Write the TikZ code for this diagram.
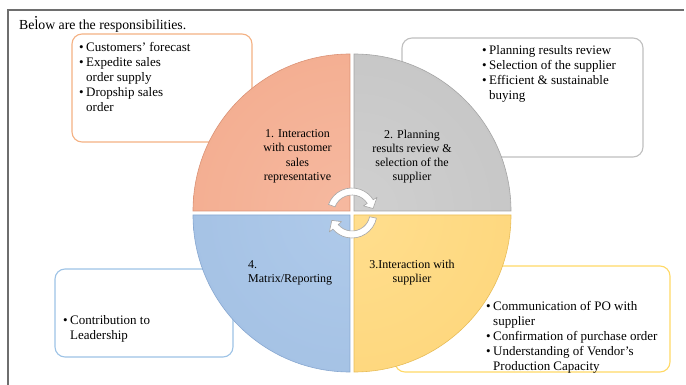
\documentclass[tikz,border=0pt]{standalone}
\usepackage{fontspec}
\setmainfont{Liberation Serif}
\definecolor{frameline}{HTML}{6E6E6E}
\definecolor{orin}{HTML}{F6B9A0}
\definecolor{orout}{HTML}{F1A585}
\definecolor{ordraw}{HTML}{DB9276}
\definecolor{grin}{HTML}{D0D0D0}
\definecolor{grout}{HTML}{BFBFBF}
\definecolor{grdraw}{HTML}{A5A5A5}
\definecolor{blin}{HTML}{AFCAEA}
\definecolor{blout}{HTML}{9CBBE0}
\definecolor{bldraw}{HTML}{88A8D0}
\definecolor{yein}{HTML}{FFDE8E}
\definecolor{yeout}{HTML}{FDD270}
\definecolor{yedraw}{HTML}{E8BD58}
\definecolor{orbox}{HTML}{F4B183}
\definecolor{grbox}{HTML}{BFBFBF}
\definecolor{blbox}{HTML}{9DC3E6}
\definecolor{yebox}{HTML}{FFD966}
\newcommand{\bul}{\makebox[7pt][l]{\textbullet}}
\newcommand{\ind}{\hspace*{7pt}}
% one quarter of the cycle: corner, start angle, inner colour, outer colour, rim colour
\newcommand{\quarter}[5]{%
  \begin{scope}
    \clip #1 -- ++(#2:157) arc[start angle=#2,end angle=#2+90,radius=157] -- cycle;
    \shade[inner color=#3,outer color=#4] (352,213) circle (314);
  \end{scope}
  \draw[#5,line width=0.6pt] #1 -- ++(#2:157) arc[start angle=#2,end angle=#2+90,radius=157] -- cycle;}
\begin{document}
\begin{tikzpicture}[x=1pt,y=-1pt,
  infobox/.style={fill=white,line width=1.1pt,rounded corners=10pt},
  boxtext/.style={anchor=north west,inner sep=0pt,align=left,
    font=\fontsize{13}{15}\selectfont},
  quadtext/.style={inner sep=0pt,font=\fontsize{12}{14.3}\selectfont},
  arrowband/.style={fill=white,draw=gray!70,line width=0.6pt,line join=round}]
\useasboundingbox (0,0) rectangle (686,385);

% page frame and heading
\draw[frameline,line width=1.3pt] (8,385) -- (8,10) -- (684,10);
\fill[black] (36,17) circle (1pt);
\node[anchor=base west,inner sep=0pt,font=\fontsize{13.8}{16}\selectfont] (head) at (19,30) {Below are the responsibilities.};

% detail boxes behind the circle
\draw[infobox,draw=orbox] (72,34) rectangle (252,142);
\draw[infobox,draw=grbox] (402,38) rectangle (643,157);
\draw[infobox,draw=blbox] (55,269) rectangle (233,357);
\draw[infobox,draw=yebox] (395,266) rectangle (670,372);

\node[boxtext] (t1) at (79,42) {\bul Customers’ forecast\\ \bul Expedite sales\\ \ind order supply\\ \bul Dropship sales\\ \ind order};
\node[boxtext] (t2) at (482,45) {\bul Planning results review\\ \bul Selection of the supplier\\ \bul Efficient \& sustainable\\ \ind buying};
\node[boxtext] (t4) at (63,315) {\bul Contribution to\\ \ind Leadership};
\node[boxtext] (t3) at (486,301) {\bul Communication of PO with\\ \ind supplier\\ \bul Confirmation of purchase order\\ \bul Understanding of Vendor’s\\ \ind Production Capacity};

% four quadrants of the cycle
\quarter{(350,211)}{180}{orin}{orout}{ordraw}
\quarter{(354,211)}{270}{grin}{grout}{grdraw}
\quarter{(354,215)}{0}{yein}{yeout}{yedraw}
\quarter{(350,215)}{90}{blin}{blout}{bldraw}

\node[quadtext,anchor=north,align=center] (q1) at (297.5,129.5) {1. Interaction\\ with customer\\ sales\\ representative};
\node[quadtext,anchor=north,align=center] (q2) at (412,129.5) {2. Planning\\ results review \&\\ selection of the\\ supplier};
\node[quadtext,anchor=north west,align=left] (q4) at (248,260) {4.\\ Matrix/Reporting};
\node[quadtext,anchor=north,align=center] (q3) at (412,260) {3.Interaction with\\ supplier};

% circular arrows in the middle
\begin{scope}[shift={(352,213)}]
\draw[arrowband] (200:25) arc[start angle=200,end angle=328,radius=25]
  -- (328:29.5) -- (348:21.5) -- (328:13.5) -- (328:18)
  arc[start angle=328,end angle=200,radius=18] -- cycle;
\draw[arrowband] (12:25) arc[start angle=12,end angle=140,radius=25]
  -- (140:29.5) -- (160:21.5) -- (140:13.5) -- (140:18)
  arc[start angle=140,end angle=12,radius=18] -- cycle;
\end{scope}
\end{tikzpicture}
\end{document}
